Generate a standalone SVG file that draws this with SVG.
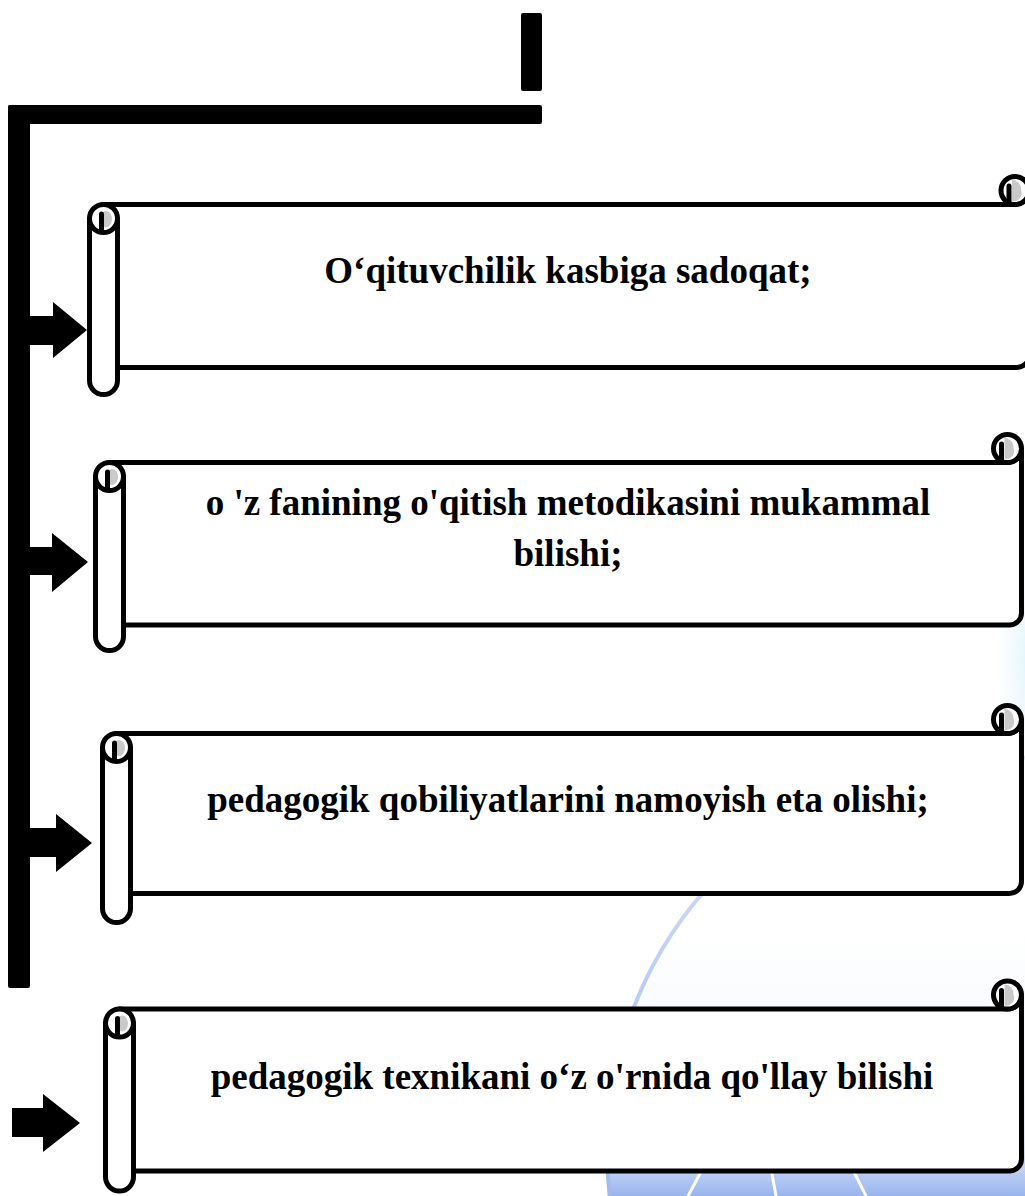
<svg xmlns="http://www.w3.org/2000/svg" width="1025" height="1196" viewBox="0 0 1025 1196">
<style>
.ln{fill:#fff;stroke:#000;stroke-width:5;stroke-linejoin:round}
.op{fill:none;stroke:#000;stroke-width:5;stroke-linecap:round}
.gr{fill:#c9c9c9}
.bar{fill:#000}
.tx{font-family:"Liberation Serif","Times New Roman",serif;font-weight:bold;font-size:37px;fill:#000;text-anchor:middle}
</style>
<defs>
<linearGradient id="gl" gradientUnits="userSpaceOnUse" x1="0" y1="900" x2="0" y2="1196">
<stop offset="0" stop-color="#ffffff" stop-opacity="0"/>
<stop offset="0.8" stop-color="#c4d4f6" stop-opacity="0.5"/>
<stop offset="1" stop-color="#99b4ee"/>
</linearGradient>
<linearGradient id="gs" gradientUnits="userSpaceOnUse" x1="0" y1="760" x2="0" y2="1196">
<stop offset="0" stop-color="#dbe5fa"/>
<stop offset="1" stop-color="#9fb8ee"/>
</linearGradient>
<radialGradient id="cy" cx="0.5" cy="0.5" r="0.5">
<stop offset="0" stop-color="#cfeefb"/>
<stop offset="1" stop-color="#eaf7fd" stop-opacity="0"/>
</radialGradient>
</defs>
<rect width="1025" height="1196" fill="#fff"/>
<g id="watermark">
<ellipse cx="1040" cy="660" rx="45" ry="110" fill="url(#cy)"/>
<circle cx="1000" cy="1150" r="393" fill="url(#gl)" stroke="url(#gs)" stroke-width="4"/>
<path d="M688 1196 L703 1168 M776 1196 L771 1168 M866 1196 L852 1168" stroke="#fff" stroke-width="3" fill="none"/>
</g>
<g id="connectors">
<rect class="bar" x="521" y="13" width="21" height="78" rx="2"/>
<rect class="bar" x="8" y="105" width="534" height="19" rx="2"/>
<rect class="bar" x="8" y="105" width="22" height="883" rx="2"/>
<polygon class="bar" points="29,316 53,316 53,302 87,330 53,358 53,345 29,345"/>
<polygon class="bar" points="29,547 52,547 52,533 88,562 52,592 52,575 29,575"/>
<polygon class="bar" points="29,828 56,828 56,814 92,843 56,872 56,857 29,857"/>
<polygon class="bar" points="12,1108 43,1108 43,1094 80,1123 43,1152 43,1137 12,1137"/>
</g>
<g id="node1">
<path class="ln" d="M103.5,204.5 H1015 A14 14 0 0 0 1029,190.5 V355.5 A12 12 0 0 1 1017,367.5 H103.5 Z"/>
<circle class="ln" cx="1015" cy="190.5" r="14"/>
<path class="gr" d="M1012,180 A9 9 0 0 1 1021,190 A8 8 0 0 1 1012,201 Z"/>
<path class="op" d="M1009,186 V203" stroke-width="4"/>
<rect x="89.5" y="204.5" width="28" height="190" rx="14" class="ln"/>
<path class="op" d="M89.5,218.5 A14 14 0 0 0 117.5,218.5"/>
<ellipse class="gr" cx="106" cy="219" rx="6" ry="8"/>
<path class="op" d="M101.5,214 V231" stroke-width="4"/>
<text class="tx" x="568" y="283">O‘qituvchilik kasbiga sadoqat;</text>
</g>
<g id="node2">
<path class="ln" d="M109.5,462.5 H1007.5 A14 14 0 0 0 1021.5,448.5 V613 A12 12 0 0 1 1009.5,625 H109.5 Z"/>
<circle class="ln" cx="1007.5" cy="448.5" r="14"/>
<path class="gr" d="M1004.5,438 A9 9 0 0 1 1013.5,448 A8 8 0 0 1 1004.5,459 Z"/>
<path class="op" d="M1001.5,444 V461" stroke-width="4"/>
<rect x="95.5" y="462.5" width="28" height="188" rx="14" class="ln"/>
<path class="op" d="M95.5,476.5 A14 14 0 0 0 123.5,476.5"/>
<ellipse class="gr" cx="112" cy="477" rx="6" ry="8"/>
<path class="op" d="M107.5,472 V489" stroke-width="4"/>
<text class="tx" x="568" y="515">o 'z fanining o'qitish metodikasini mukammal</text>
<text class="tx" x="568" y="566">bilishi;</text>
</g>
<g id="node3">
<path class="ln" d="M116.5,733.5 H1007.5 A14 14 0 0 0 1021.5,719.5 V881.5 A12 12 0 0 1 1009.5,893.5 H116.5 Z"/>
<circle class="ln" cx="1007.5" cy="719.5" r="14"/>
<path class="gr" d="M1004.5,709 A9 9 0 0 1 1013.5,719 A8 8 0 0 1 1004.5,730 Z"/>
<path class="op" d="M1001.5,715 V732" stroke-width="4"/>
<rect x="102.5" y="733.5" width="28" height="189" rx="14" class="ln"/>
<path class="op" d="M102.5,747.5 A14 14 0 0 0 130.5,747.5"/>
<ellipse class="gr" cx="119" cy="748" rx="6" ry="8"/>
<path class="op" d="M114.5,743 V760" stroke-width="4"/>
<text class="tx" x="568" y="812">pedagogik qobiliyatlarini namoyish eta olishi;</text>
</g>
<g id="node4">
<path class="ln" d="M119.5,1009 H1007.5 A14 14 0 0 0 1021.5,995 V1159 A12 12 0 0 1 1009.5,1171 H119.5 Z"/>
<circle class="ln" cx="1007.5" cy="995" r="14"/>
<path class="gr" d="M1004.5,984.5 A9 9 0 0 1 1013.5,994.5 A8 8 0 0 1 1004.5,1005.5 Z"/>
<path class="op" d="M1001.5,990.5 V1007.5" stroke-width="4"/>
<rect x="105.5" y="1009" width="28" height="182" rx="14" class="ln"/>
<path class="op" d="M105.5,1023 A14 14 0 0 0 133.5,1023"/>
<ellipse class="gr" cx="122" cy="1023.5" rx="6" ry="8"/>
<path class="op" d="M117.5,1018.5 V1035.5" stroke-width="4"/>
<text class="tx" x="572" y="1089">pedagogik texnikani o‘z o'rnida qo'llay bilishi</text>
</g>
</svg>
